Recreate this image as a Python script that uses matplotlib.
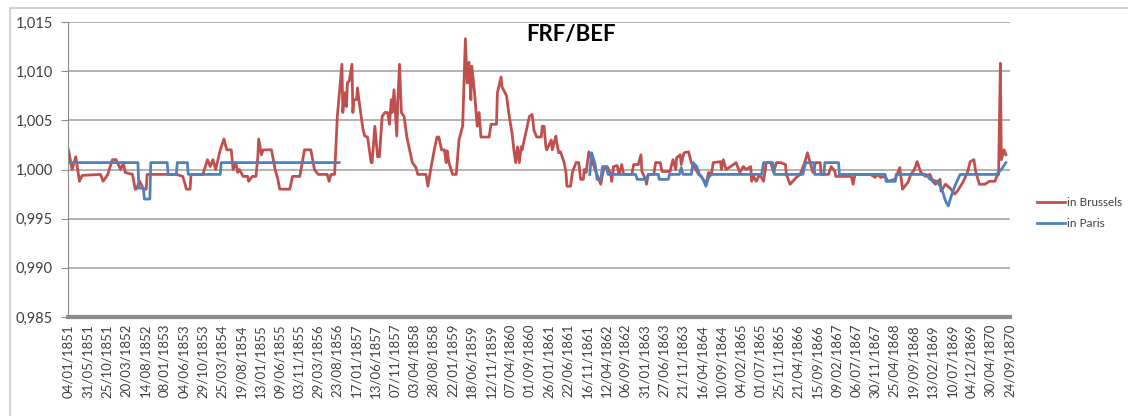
import numpy as np
import matplotlib
matplotlib.use("Agg")
import matplotlib.pyplot as plt
from matplotlib.patches import Rectangle

plt.rcParams['font.family'] = ['Lato', 'DejaVu Sans']

# week index (weekly data starting 04/01/1851) and exchange rate
brussels_week = [0, 4, 8, 12, 15, 35, 38, 43, 48, 52, 57, 60, 62, 70, 73, 74, 78, 82, 85, 86,
                 108, 118, 125, 129, 133, 134, 147, 152, 155, 158, 161, 166, 170, 173, 178, 180,
                 183, 185, 187, 191, 196, 197, 201, 205, 207, 208, 211, 213, 222, 226, 229, 231,
                 242, 245, 253, 258, 265, 269, 273, 283, 285, 287, 291, 294, 299, 300, 302, 304,
                 305, 307, 310, 311, 312, 315, 316, 318, 322, 324, 327, 331, 332, 335, 338, 340,
                 343, 346, 349, 351, 353, 354, 356, 359, 360, 362, 364, 367, 370, 373, 376, 380,
                 382, 391, 393, 397, 400, 403, 405, 408, 411, 413, 414, 416, 420, 424, 427, 431,
                 433, 434, 436, 438, 440, 441, 444, 446, 447, 449, 451, 460, 462, 468, 469, 473,
                 474, 479, 482, 485, 487, 489, 491, 493, 495, 496, 500, 504, 507, 509, 512, 517,
                 518, 520, 522, 523, 528, 529, 533, 534, 536, 538, 542, 544, 545, 549, 551, 555,
                 558, 560, 563, 564, 566, 569, 572, 577, 582, 585, 589, 593, 594, 596, 600, 602,
                 605, 607, 616, 618, 623, 626, 627, 631, 632, 634, 640, 642, 647, 649, 658, 659,
                 661, 664, 665, 669, 670, 673, 678, 681, 686, 689, 692, 697, 700, 703, 705, 713,
                 714, 716, 719, 724, 730, 734, 738, 741, 746, 747, 749, 752, 756, 760, 763, 768,
                 771, 774, 779, 784, 785, 789, 792, 796, 800, 805, 808, 811, 814, 817, 822, 823,
                 831, 834, 838, 839, 844, 856, 858, 860, 877, 882, 885, 888, 893, 896, 904, 909,
                 912, 918, 921, 925, 928, 932, 937, 942, 945, 948, 953, 954, 959, 965, 969, 972,
                 978, 983, 986, 990, 992, 996, 1002, 1007, 1013, 1015, 1017, 1019, 1020, 1023, 1025]
brussels_rate = [1.0020, 1.0000, 1.0013, 0.9988, 0.9994, 0.9995, 0.9988, 0.9995, 1.0010, 1.0010,
                 1.0000, 1.0007, 0.9997, 0.9995, 0.9980, 0.9980, 0.9988, 0.9980, 0.9980, 0.9995,
                 0.9995, 0.9995, 0.9993, 0.9980, 0.9980, 0.9995, 0.9995, 1.0010, 1.0003, 1.0010,
                 1.0000, 1.0020, 1.0031, 1.0020, 1.0020, 1.0000, 1.0007, 0.9997, 1.0000, 0.9993,
                 0.9993, 0.9988, 0.9993, 0.9993, 1.0012, 1.0031, 1.0015, 1.0020, 1.0020, 1.0000,
                 0.9990, 0.9980, 0.9980, 0.9993, 0.9993, 1.0020, 1.0020, 1.0000, 0.9995, 0.9995,
                 0.9988, 0.9995, 0.9995, 1.0054, 1.0107, 1.0058, 1.0078, 1.0064, 1.0088, 1.0090,
                 1.0107, 1.0058, 1.0071, 1.0071, 1.0083, 1.0068, 1.0041, 1.0034, 1.0033, 1.0007,
                 1.0007, 1.0044, 1.0013, 1.0013, 1.0054, 1.0058, 1.0058, 1.0046, 1.0071, 1.0058,
                 1.0081, 1.0034, 1.0068, 1.0107, 1.0058, 1.0054, 1.0033, 1.0020, 1.0007, 1.0002,
                 0.9995, 0.9995, 0.9983, 1.0005, 1.0020, 1.0033, 1.0033, 1.0020, 1.0020, 1.0007,
                 1.0019, 1.0007, 0.9995, 0.9995, 1.0030, 1.0044, 1.0102, 1.0133, 1.0088, 1.0109,
                 1.0071, 1.0105, 1.0079, 1.0054, 1.0044, 1.0058, 1.0033, 1.0033, 1.0046, 1.0046,
                 1.0078, 1.0094, 1.0084, 1.0075, 1.0054, 1.0037, 1.0020, 1.0007, 1.0023, 1.0007,
                 1.0023, 1.0020, 1.0037, 1.0054, 1.0056, 1.0040, 1.0033, 1.0033, 1.0044, 1.0044,
                 1.0023, 1.0020, 1.0030, 1.0020, 1.0034, 1.0027, 1.0017, 1.0018, 1.0007, 0.9997,
                 0.9983, 0.9983, 0.9997, 1.0007, 1.0007, 0.9990, 0.9990, 1.0000, 0.9997, 1.0018,
                 1.0010, 0.9997, 0.9985, 1.0000, 1.0003, 0.9995, 0.9988, 1.0003, 1.0004, 0.9995,
                 1.0005, 0.9995, 0.9995, 1.0005, 1.0005, 1.0015, 0.9998, 0.9990, 0.9985, 0.9995,
                 0.9995, 1.0007, 1.0007, 0.9998, 0.9998, 1.0003, 1.0010, 1.0000, 1.0012, 1.0015,
                 1.0005, 1.0017, 1.0018, 1.0007, 1.0000, 0.9995, 0.9993, 0.9985, 0.9997, 0.9995,
                 1.0007, 1.0008, 1.0000, 1.0010, 1.0000, 1.0003, 1.0007, 0.9997, 1.0003, 1.0000,
                 1.0003, 0.9988, 0.9993, 0.9988, 0.9995, 0.9988, 1.0007, 1.0007, 0.9997, 1.0007,
                 1.0007, 1.0005, 0.9995, 0.9985, 0.9988, 0.9992, 0.9995, 1.0007, 1.0017, 1.0007,
                 0.9997, 1.0007, 1.0007, 0.9995, 0.9995, 1.0003, 0.9998, 0.9993, 0.9993, 0.9993,
                 0.9985, 0.9995, 0.9995, 0.9992, 0.9995, 0.9992, 0.9993, 0.9988, 0.9990, 1.0002,
                 0.9980, 0.9987, 0.9995, 1.0000, 1.0008, 0.9997, 0.9993, 0.9995, 0.9988, 0.9985,
                 0.9990, 0.9978, 0.9985, 0.9980, 0.9975, 0.9978, 0.9987, 0.9997, 1.0008, 1.0010,
                 0.9998, 0.9985, 0.9985, 0.9988, 0.9988, 0.9993, 0.9995, 1.0108, 1.0010, 1.0020,
                 1.0015]

# Paris quotes: gap between the two runs
paris_week = [0, 76, 77, 82, 83, 89, 90, 108, 109, 118, 119, 130, 131, 166, 167, 296, 297,
              570, 572, 576, 578, 582, 584, 588, 590, 620, 622, 632, 634, 645, 646, 656, 657,
              668, 670, 672, 681, 683, 687, 690, 694, 697, 700, 703, 758, 760, 770, 772, 803,
              806, 815, 816, 826, 827, 842, 843, 893, 894, 904, 905, 938, 942, 950, 955, 959,
              962, 966, 970, 975, 1015, 1020, 1025]
paris_rate = [1.0007, 1.0007, 0.9981, 0.9981, 0.9970, 0.9970, 1.0007, 1.0007, 0.9995, 0.9995,
              1.0007, 1.0007, 0.9995, 0.9995, 1.0007, 1.0007, np.nan,
              0.9995, 1.0017, 1.0005, 0.9990, 0.9990, 1.0003, 1.0003, 0.9995, 0.9995, 0.9990,
              0.9990, 0.9995, 0.9995, 0.9990, 0.9990, 0.9995, 0.9995, 1.0002, 0.9995, 0.9995,
              1.0007, 1.0003, 0.9995, 0.9990, 0.9983, 0.9992, 0.9995, 0.9995, 1.0007, 1.0007,
              0.9995, 0.9995, 1.0007, 1.0007, 0.9995, 0.9995, 1.0007, 1.0007, 0.9995, 0.9995,
              0.9988, 0.9988, 0.9995, 0.9995, 0.9990, 0.9988, 0.9980, 0.9968, 0.9963, 0.9975,
              0.9985, 0.9995, 0.9995, 1.0000, 1.0007]

tick_labels = ["04/01/1851", "31/05/1851", "25/10/1851", "20/03/1852", "14/08/1852",
               "08/01/1853", "04/06/1853", "29/10/1853", "25/03/1854", "19/08/1854",
               "13/01/1855", "09/06/1855", "03/11/1855", "29/03/1856", "23/08/1856",
               "17/01/1857", "13/06/1857", "07/11/1857", "03/04/1858", "28/08/1858",
               "22/01/1859", "18/06/1859", "12/11/1859", "07/04/1860", "01/09/1860",
               "26/01/1861", "22/06/1861", "16/11/1861", "12/04/1862", "06/09/1862",
               "31/01/1863", "27/06/1863", "21/11/1863", "16/04/1864", "10/09/1864",
               "04/02/1865", "01/07/1865", "25/11/1865", "21/04/1866", "15/09/1866",
               "09/02/1867", "06/07/1867", "30/11/1867", "25/04/1868", "19/09/1868",
               "13/02/1869", "10/07/1869", "04/12/1869", "30/04/1870", "24/09/1870"]
y_ticks = [0.985, 0.990, 0.995, 1.000, 1.005, 1.010, 1.015]

fig = plt.figure(figsize=(11.28, 4.16), dpi=100)
fig.patches.append(Rectangle((10/1128, -0.1), 1.2, 1 - 8/416 + 0.1, transform=fig.transFigure,
                             fill=False, edgecolor="#C8C8C8", linewidth=1.2))
ax = fig.add_axes([68/1128, 1 - 317/416, (1010 - 68)/1128, (317 - 22)/416])

ax.plot(brussels_week, brussels_rate, color="#C0504D", lw=2.0, label="in Brussels")
ax.plot(paris_week, paris_rate, color="#4F81BD", lw=2.0, label="in Paris")

ax.set_ylim(0.985, 1.015)
ax.set_xlim(-0.5, 1029.5)
ax.set_yticks(y_ticks)
ax.set_yticklabels([("%.3f" % v).replace(".", ",") for v in y_ticks], fontsize=10.5, color="#404040")
ax.set_xticks(np.arange(len(tick_labels)) * 21)
ax.set_xticklabels(tick_labels, rotation=90, fontsize=9.5, color="#404040")
ax.tick_params(axis="x", length=0, pad=5)
ax.tick_params(axis="y", length=5, color="#8C8C8C", pad=6)
ax.grid(axis="y", color="#A6A6A6", lw=1.2)
ax.set_axisbelow(True)
for s in ["top", "right"]:
    ax.spines[s].set_visible(False)
ax.spines["left"].set_color("#8C8C8C")
ax.spines["bottom"].set_color("#8C8C8C")
ax.spines["bottom"].set_linewidth(3)

fig.text(571/1128, 1 - 35/416, "FRF/BEF", ha="center", va="center", fontsize=16, fontweight="bold")

ax.legend(loc="center left", bbox_to_anchor=(1026/1128, 1 - 213/416), bbox_transform=fig.transFigure,
          frameon=False, fontsize=8.5, handlelength=2.4, handletextpad=0.2, labelspacing=0.8,
          labelcolor="#404040")

fig.savefig("out.png", dpi=100)
